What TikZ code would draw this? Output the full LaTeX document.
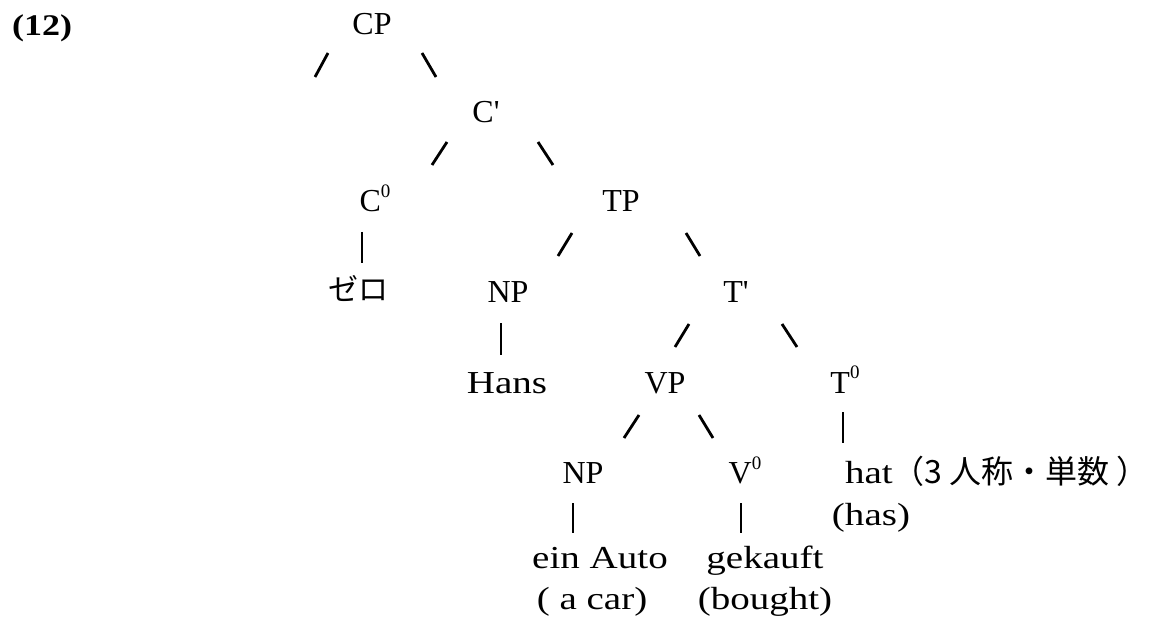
\documentclass[tikz,border=0pt]{standalone}
\usepackage{graphicx}
\usepackage{fontspec}
\setmainfont{Liberation Serif}
\newfontfamily\jfont{Noto Sans CJK JP}
\newcommand\capfont{\fontsize{16}{19}\selectfont}
\newcommand\jpfont{\jfont\fontsize{15}{18}\selectfont}
\newcommand\jpbig{\jfont\fontsize{16}{19}\selectfont}
\newcommand\widetxt[1]{\scalebox{1.22}[1]{#1}}
\newcommand\supz{\raisebox{7pt}{\fontsize{9.5}{9.5}\selectfont 0}}
\tikzset{
  lab/.style={anchor=base, inner sep=0pt, outer sep=0pt, font=\capfont},
  slashline/.style={line width=1.4pt},
  barline/.style={line width=0.8pt},
}
\begin{document}
\begin{tikzpicture}[x=0.5pt, y=-0.5pt]
\useasboundingbox (0,0) rectangle (1151,620);
% labels
\node[lab, font=\bfseries\fontsize{15}{18}\selectfont] (num) at (42,36) {\scalebox{1.2}[1]{(12)}};
\node[lab] (CP) at (372,35) {CP};
\node[lab] (Cbar) at (486,123) {C\textquotesingle};
\node[lab] (C0) at (375,212) {C\supz};
\node[lab] (TP) at (621,212) {TP};
\node[lab, font=\jpfont] (zero) at (358,300) {ゼロ};
\node[lab] (NP1) at (508,302) {NP};
\node[lab] (Tbar) at (736,302) {T\textquotesingle};
\node[lab] (hans) at (507,393) {\widetxt{Hans}};
\node[lab] (VP) at (665,393) {VP};
\node[lab] (T0) at (845,393) {T\supz};
\node[lab] (NP2) at (583,483) {NP};
\node[lab] (V0) at (745,483) {V\supz};
\node[lab, anchor=base west] (hat) at (845,483) {\widetxt{hat}{\jpbig （3 人称・単数 ）}};
\node[lab] (has) at (871,525) {\widetxt{(has)}};
\node[lab] (auto) at (600,568) {\widetxt{ein Auto}};
\node[lab] (gek) at (765,568) {\widetxt{gekauft}};
\node[lab] (car) at (592,609) {\widetxt{( a car)}};
\node[lab] (bought) at (765,609) {\widetxt{(bought)}};
% branch marks
\coordinate (a1) at (328,53);  \coordinate (a2) at (315,77);
\coordinate (b1) at (422,53);  \coordinate (b2) at (436,77);
\coordinate (c1) at (447,142); \coordinate (c2) at (432,165);
\coordinate (d1) at (538,142); \coordinate (d2) at (553,165);
\coordinate (e1) at (362,232); \coordinate (e2) at (362,263);
\coordinate (f1) at (572,233); \coordinate (f2) at (558,256);
\coordinate (g1) at (686,233); \coordinate (g2) at (700,256);
\coordinate (h1) at (501,323); \coordinate (h2) at (501,355);
\coordinate (i1) at (689,324); \coordinate (i2) at (675,347);
\coordinate (j1) at (782,324); \coordinate (j2) at (797,347);
\coordinate (k1) at (639,415); \coordinate (k2) at (624,438);
\coordinate (l1) at (699,415); \coordinate (l2) at (713,438);
\coordinate (m1) at (843,412); \coordinate (m2) at (843,443);
\coordinate (n1) at (573,503); \coordinate (n2) at (573,533);
\coordinate (o1) at (741,503); \coordinate (o2) at (741,533);
\foreach \p in {a,b,c,d,f,g,i,j,k,l} \draw[slashline] (\p1) -- (\p2);
\foreach \p in {e,h,m,n,o} \draw[barline] (\p1) -- (\p2);
\end{tikzpicture}
\end{document}
